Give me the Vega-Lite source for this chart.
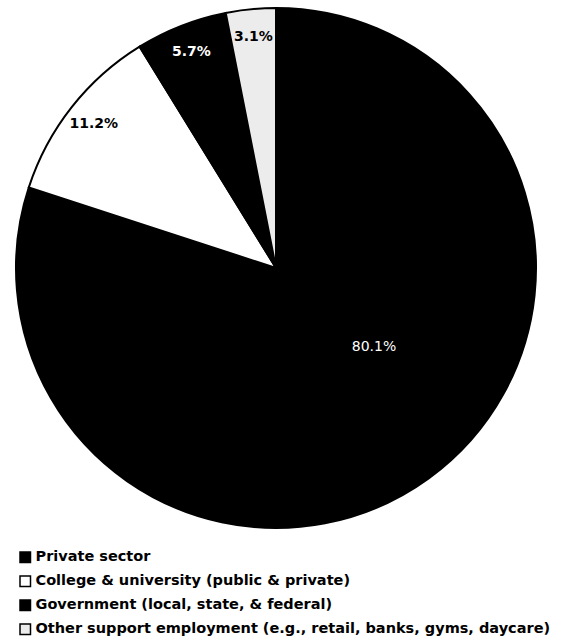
{
  "$schema": "https://vega.github.io/schema/vega-lite/v6.json",
  "width": 552,
  "height": 536,
  "padding": 0,
  "background": "white",
  "config": {"view": {"stroke": null}},
  "data": {
    "values": [
      {"category": "Private sector", "share": 0.801, "order": 1},
      {"category": "College & university (public & private)", "share": 0.112, "order": 2},
      {"category": "Government (local, state, & federal)", "share": 0.057, "order": 3},
      {"category": "Other support employment (e.g., retail, banks, gyms, daycare)", "share": 0.031, "order": 4}
    ]
  },
  "encoding": {
    "theta": {"field": "share", "type": "quantitative", "stack": true},
    "order": {"field": "order", "type": "quantitative"}
  },
  "layer": [
    {
      "mark": {"type": "arc", "outerRadius": 260, "stroke": "black", "strokeWidth": 2},
      "encoding": {
        "fill": {
          "field": "category",
          "type": "nominal",
          "sort": {"field": "order"},
          "scale": {
            "domain": [
              "Private sector",
              "College & university (public & private)",
              "Government (local, state, & federal)",
              "Other support employment (e.g., retail, banks, gyms, daycare)"
            ],
            "range": ["#000000", "#ffffff", "#000000", "#ececec"]
          },
          "legend": {
            "title": null,
            "orient": "none",
            "legendX": 18,
            "legendY": 550,
            "direction": "vertical",
            "symbolType": "square",
            "symbolSize": 110,
            "symbolStrokeColor": "black",
            "symbolStrokeWidth": 1.5,
            "labelFont": "DejaVu Sans",
            "labelFontWeight": "bold",
            "labelFontSize": 14.5,
            "labelColor": "black",
            "labelLimit": 600,
            "rowPadding": 7,
            "labelOffset": 3
          }
        }
      }
    },
    {
      "mark": {"type": "text", "radius": 232, "font": "DejaVu Sans", "fontSize": 14, "fontWeight": "bold"},
      "encoding": {
        "text": {
          "condition": {"test": "datum.order > 1", "field": "share", "type": "quantitative", "format": ".1%"},
          "value": ""
        },
        "color": {
          "condition": {"test": "datum.order === 3", "value": "white"},
          "value": "black"
        }
      }
    },
    {
      "mark": {"type": "text", "radius": 126, "dx": 24, "dy": -23, "font": "DejaVu Sans", "fontSize": 14, "color": "white"},
      "encoding": {
        "text": {
          "condition": {"test": "datum.order === 1", "field": "share", "type": "quantitative", "format": ".1%"},
          "value": ""
        }
      }
    }
  ]
}
